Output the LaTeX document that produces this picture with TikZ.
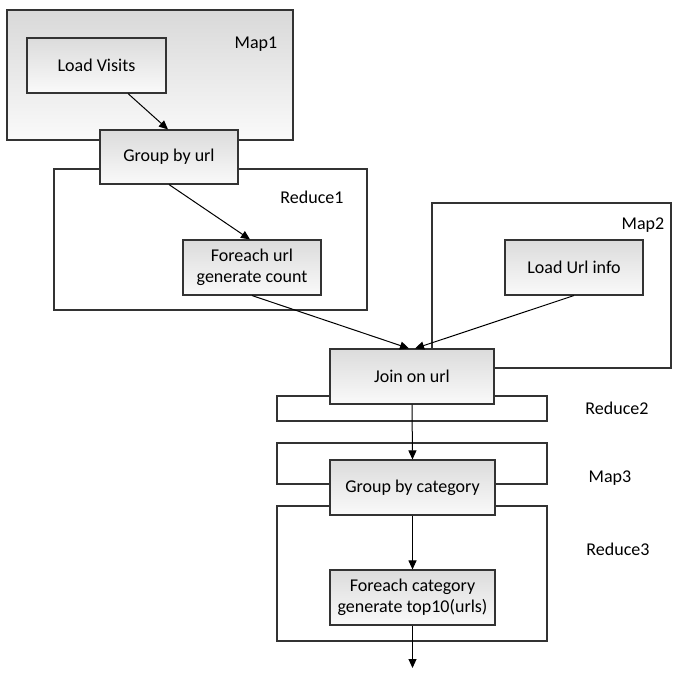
\documentclass[tikz,border=0pt]{standalone}
\usepackage{fontspec}
\setmainfont{Carlito}
\usetikzlibrary{arrows.meta}
\begin{document}
\begin{tikzpicture}[x=1pt,y=-1pt,
  stage/.style={draw=black!80,line width=1.1pt},
  gstage/.style={stage,top color=black!15,bottom color=black!2},
  op/.style={draw=black!80,line width=1.1pt,top color=black!14,bottom color=black!2,inner sep=0pt,align=center,font=\fontsize{18}{21}\selectfont},
  lbl/.style={font=\fontsize{18}{21}\selectfont,inner sep=0pt},
  flow/.style={draw=black,line width=1pt,-{Triangle[length=9pt,width=8pt]}}]
\useasboundingbox (0,0) rectangle (677,674);
% stage boxes
\draw[gstage] (7,10) rectangle (293,140);
\draw[stage] (54,169) rectangle (367,310);
\draw[stage] (432,203) rectangle (671,368);
\draw[stage] (277,396) rectangle (547,421);
\draw[stage] (277,443) rectangle (547,484);
\draw[stage] (277,506) rectangle (547,641);
% labels
\node[lbl] (m1) at (256,44) {Map1};
\node[lbl] (r1) at (312,197) {Reduce1};
\node[lbl] (m2) at (643,225) {Map2};
\node[lbl] (r2) at (617,408) {Reduce2};
\node[lbl] (m3) at (610,478) {Map3};
\node[lbl] (r3) at (618,549) {Reduce3};
% operators
\node[op,minimum width=139pt,minimum height=55pt] (lv) at (96.5,65.5) {Load Visits};
\node[op,minimum width=138pt,minimum height=54pt] (gu) at (169,157) {Group by url};
\node[op,minimum width=138pt,minimum height=55pt] (fu) at (252,267.5) {Foreach url\\generate count};
\node[op,minimum width=138pt,minimum height=55pt] (lu) at (574,267.5) {Load Url info};
\node[op,minimum width=164pt,minimum height=55pt] (jo) at (412,376.5) {Join on url};
\node[op,minimum width=165pt,minimum height=55pt] (gc) at (412.5,487.5) {Group by category};
\node[op,minimum width=165pt,minimum height=55pt] (fc) at (412.5,597.5) {Foreach category\\generate top10(urls)};
\coordinate (out) at (412.5,668);
% connectors
\draw[flow] ([xshift=31.5pt]lv.south) -- ([xshift=-1pt]gu.north);
\draw[flow] (gu.south) -- ([xshift=-2pt]fu.north);
\draw[flow] (fu.south) -- ([xshift=-3pt]jo.north);
\draw[flow] (lu.south) -- ([xshift=3pt]jo.north);
\draw[flow] (jo.south) -- (gc.north);
\draw[flow] (gc.south) -- (fc.north);
\draw[flow] (fc.south) -- (out);
\end{tikzpicture}
\end{document}
